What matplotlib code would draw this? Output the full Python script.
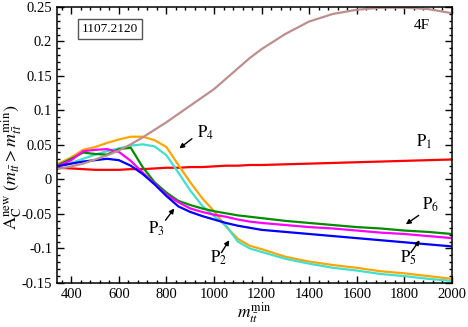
import numpy as np
import matplotlib
matplotlib.use('Agg')
from matplotlib import pyplot as plt
from matplotlib.ticker import MultipleLocator, FuncFormatter

plt.rcParams['font.family'] = 'serif'
plt.rcParams['font.serif'] = ['Liberation Serif', 'DejaVu Serif']
plt.rcParams['mathtext.fontset'] = 'stix'
plt.rcParams['axes.unicode_minus'] = False

# m_tt^min grid (GeV)
mtt = [340, 400, 450, 500, 550, 600, 650, 700, 750, 800, 850, 900, 950, 1000,
       1050, 1100, 1150, 1200, 1300, 1400, 1500, 1600, 1700, 1800, 1900, 2000]

# curves
brown = [0.015, 0.019, 0.023, 0.029, 0.035, 0.042, 0.051, 0.061, 0.072, 0.083, 0.095, 0.107, 0.119, 0.131,
         0.146, 0.161, 0.176, 0.189, 0.211, 0.229, 0.240, 0.246, 0.249, 0.249, 0.247, 0.241]
p1 = [0.017, 0.016, 0.015, 0.014, 0.014, 0.014, 0.015, 0.015, 0.016, 0.017, 0.017, 0.018, 0.018, 0.019,
      0.020, 0.020, 0.021, 0.021, 0.022, 0.023, 0.024, 0.025, 0.026, 0.027, 0.028, 0.029]
p2 = [0.019, 0.024, 0.030, 0.036, 0.041, 0.045, 0.049, 0.051, 0.048, 0.035, 0.010, -0.016, -0.038, -0.053,
      -0.067, -0.090, -0.100, -0.105, -0.115, -0.122, -0.128, -0.132, -0.137, -0.140, -0.144, -0.147]
p3 = [0.019, 0.028, 0.041, 0.043, 0.044, 0.040, 0.027, 0.010, -0.006, -0.022, -0.033, -0.042, -0.047, -0.051,
      -0.054, -0.058, -0.061, -0.063, -0.066, -0.069, -0.071, -0.074, -0.077, -0.079, -0.082, -0.085]
p4 = [0.022, 0.032, 0.043, 0.047, 0.053, 0.058, 0.062, 0.062, 0.057, 0.047, 0.021, -0.004, -0.027, -0.046,
      -0.068, -0.086, -0.096, -0.101, -0.112, -0.119, -0.124, -0.128, -0.133, -0.136, -0.140, -0.144]
p5 = [0.019, 0.023, 0.026, 0.028, 0.030, 0.028, 0.020, 0.008, -0.007, -0.024, -0.039, -0.047, -0.053, -0.058,
      -0.063, -0.067, -0.070, -0.073, -0.076, -0.079, -0.082, -0.085, -0.088, -0.091, -0.094, -0.097]
p6 = [0.020, 0.030, 0.039, 0.037, 0.036, 0.044, 0.046, 0.018, -0.004, -0.019, -0.031, -0.037, -0.042, -0.046,
      -0.049, -0.052, -0.054, -0.056, -0.060, -0.063, -0.066, -0.069, -0.071, -0.074, -0.076, -0.079]

fig = plt.figure(figsize=(4.68, 3.27), dpi=100)
ax = fig.add_axes([0.1218, 0.1346, 0.844, 0.844])

lw = 1.6
ax.plot(mtt, p1, color='#ff0000', lw=lw)
ax.plot(mtt, p4, color='#ffa500', lw=lw)
ax.plot(mtt, p2, color='#40e0d0', lw=lw)
ax.plot(mtt, p6, color='#008c00', lw=lw)
ax.plot(mtt, p3, color='#ff00ff', lw=lw)
ax.plot(mtt, p5, color='#0000ff', lw=lw)
ax.plot(mtt, brown, color='#bc8f8f', lw=lw)

ax.set_xlim(340, 2000)
ax.set_ylim(-0.15, 0.25)
ax.xaxis.set_major_locator(MultipleLocator(200))
ax.xaxis.set_minor_locator(MultipleLocator(40))
ax.yaxis.set_major_locator(MultipleLocator(0.05))
ax.yaxis.set_minor_locator(MultipleLocator(0.01))

def yfmt(v, pos):
    v = round(v, 3)
    if abs(v) < 1e-9:
        return '0'
    return '%g' % v
ax.yaxis.set_major_formatter(FuncFormatter(yfmt))

ax.tick_params(which='both', direction='in', top=True, right=True, labelsize=10.5, width=1)
ax.tick_params(which='major', length=5)
ax.tick_params(which='minor', length=2.5)
for s in ax.spines.values():
    s.set_linewidth(1.1)

ax.set_xlabel(r'$m_{t\bar{t}}^{\rm min}$', fontsize=12.5)
ax.xaxis.set_label_coords(0.5, -0.062)
ax.set_ylabel(r'$\mathrm{A}_{\rm C}^{\rm new}\ (m_{t\bar{t}} > m_{t\bar{t}}^{\rm min})$', fontsize=13)
ax.yaxis.set_label_coords(-0.082, 0.42)

ax.text(0.135, 0.92, '1107.2120', transform=ax.transAxes, fontsize=9.5, ha='center', va='center',
        bbox=dict(boxstyle='square,pad=0.3', fc='white', ec='#555555', lw=1))
ax.text(1909, 0.223, '4F', fontsize=11, ha='right', va='center')

lab = 12
ax.text(1847, 0.054, r'$\mathrm{P}_1$', fontsize=lab, ha='left', va='center')
ax.text(981, -0.114, r'$\mathrm{P}_2$', fontsize=lab, ha='left', va='center')
ax.text(722, -0.072, r'$\mathrm{P}_3$', fontsize=lab, ha='left', va='center')
ax.text(928, 0.067, r'$\mathrm{P}_4$', fontsize=lab, ha='left', va='center')
ax.text(1781, -0.114, r'$\mathrm{P}_5$', fontsize=lab, ha='left', va='center')
ax.text(1876, -0.036, r'$\mathrm{P}_6$', fontsize=lab, ha='left', va='center')

arrow = dict(arrowstyle='-|>', color='black', lw=1, mutation_scale=7, shrinkA=0, shrinkB=0)
ax.annotate('', xy=(854, 0.045), xytext=(907, 0.059), arrowprops=arrow)
ax.annotate('', xy=(833, -0.042), xytext=(796, -0.059), arrowprops=arrow)
ax.annotate('', xy=(1064, -0.088), xytext=(1031, -0.106), arrowprops=arrow)
ax.annotate('', xy=(1864, -0.088), xytext=(1827, -0.106), arrowprops=arrow)
ax.annotate('', xy=(1806, -0.065), xytext=(1860, -0.052), arrowprops=arrow)

fig.savefig('out.png', dpi=100)
